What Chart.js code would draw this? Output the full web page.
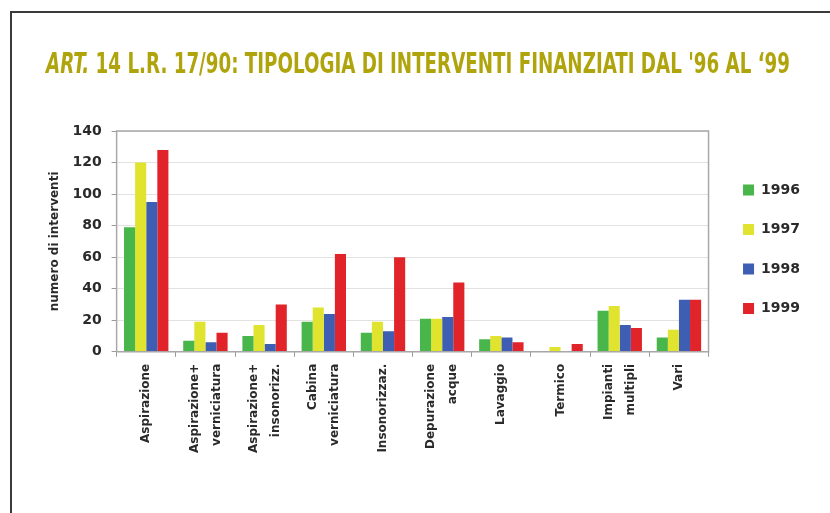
<!DOCTYPE html>
<html>
<head>
<meta charset="utf-8">
<script src="https://cdn.jsdelivr.net/npm/chart.js@4/dist/chart.umd.min.js"></script>
<style>
  html, body { margin: 0; padding: 0; background: #fff; }
  #page { position: relative; width: 830px; height: 513px; overflow: hidden; }
  #frame { position: absolute; left: 10px; top: 11px; width: 830px; height: 520px;
           border-top: 2px solid #3a3a3a; border-left: 2px solid #3a3a3a; }
  #title { position: absolute; left: 46px; top: 46px; white-space: nowrap;
           font-family: "Liberation Sans Narrow", "DejaVu Sans Condensed", "Liberation Sans", sans-serif;
           font-weight: bold; font-size: 28px; line-height: 36px; color: #b0a40c;
           transform-origin: 0 0; }
  #wrap { position: absolute; left: 0; top: 0; width: 830px; height: 513px; }
</style>
</head>
<body>
<div id="page">
  <div id="frame"></div>
  <div id="wrap"><canvas id="tipologiaChart"></canvas></div>
  <div id="title"><i>ART.</i> 14 L.R. 17/90: TIPOLOGIA DI INTERVENTI FINANZIATI DAL '96 AL ‘99</div>
</div>
<script>
// categories (multi-line labels as arrays)
const categories = [
    ['', 'Aspirazione'],
    ['Aspirazione+', 'verniciatura'],
    ['Aspirazione+', 'insonorizz.'],
    ['Cabina', 'verniciatura'],
    ['', 'Insonorizzaz.'],
    ['Depurazione', 'acque'],
    ['', 'Lavaggio'],
    ['', 'Termico'],
    ['Impianti', 'multipli'],
    ['', 'Vari']
];
const years = ['1996', '1997', '1998', '1999'];
const values1996 = [79, 7, 10, 19, 12, 21, 8, 0, 26, 9];
const values1997 = [120, 19, 17, 28, 19, 21, 10, 3, 29, 14];
const values1998 = [95, 6, 5, 24, 13, 22, 9, 0, 17, 33];
const values1999 = [128, 12, 30, 62, 60, 44, 6, 5, 15, 33];
const yMax = 140;
const yStep = 20;

const colors = ['#48b64a', '#e0e42e', '#3d5eb2', '#e0242a'];

// thin grey frame around the plot area
const plotBorder = {
    id: 'plotBorder',
    afterDraw(chart) {
        const a = chart.chartArea;
        const c = chart.ctx;
        c.save();
        c.strokeStyle = '#a8a8a8';
        c.lineWidth = 1.5;
        c.strokeRect(a.left, a.top, a.right - a.left, a.bottom - a.top);
        c.restore();
    }
};

// legend: a wider box, and its items pushed a little to the right
const legendTweak = {
    id: 'legendTweak',
    beforeInit(chart) {
        const legend = chart.legend;
        const fit = legend.fit;
        legend.fit = function () {
            fit.call(this);
            this.width += 22;
        };
        const draw = legend.draw;
        legend.draw = function () {
            this.ctx.save();
            this.ctx.translate(9, 0);
            draw.call(this);
            this.ctx.restore();
        };
    }
};

const ctx = document.getElementById('tipologiaChart').getContext('2d');
new Chart(ctx, {
    type: 'bar',
    data: {
        labels: categories,
        datasets: [
            { label: years[0], data: values1996, backgroundColor: colors[0] },
            { label: years[1], data: values1997, backgroundColor: colors[1] },
            { label: years[2], data: values1998, backgroundColor: colors[2] },
            { label: years[3], data: values1999, backgroundColor: colors[3] }
        ]
    },
    options: {
        responsive: true,
        maintainAspectRatio: false,
        animation: false,
        layout: { padding: { left: 40, top: 131, right: 7, bottom: 53 } },
        datasets: { bar: { categoryPercentage: 0.75, barPercentage: 1.0 } },
        plugins: {
            tooltip: { enabled: false },
            legend: {
                position: 'right',
                align: 'start',
                title: { display: true, text: '', padding: { top: 12, bottom: 0 } },
                labels: {
                    boxWidth: 11,
                    boxHeight: 11,
                    padding: 25.5,
                    color: '#2a2a2a',
                    font: { family: 'DejaVu Sans', weight: 'bold', size: 14 }
                }
            }
        },
        scales: {
            x: {
                grid: { display: true, drawOnChartArea: false, tickLength: 5, color: '#9a9a9a' },
                border: { color: '#9a9a9a' },
                ticks: {
                    minRotation: 90,
                    maxRotation: 90,
                    padding: 7,
                    labelOffset: -11,
                    color: '#2a2a2a',
                    font: function (c) {
                        const lab = categories[c.index] || ['', ''];
                        return {
                            family: 'DejaVu Sans', weight: 'bold', size: 12,
                            lineHeight: lab[0] === '' ? '11px' : '22px'
                        };
                    }
                }
            },
            y: {
                min: 0,
                max: yMax,
                ticks: {
                    stepSize: yStep,
                    padding: 10,
                    color: '#2a2a2a',
                    font: { family: 'DejaVu Sans', weight: 'bold', size: 14 }
                },
                grid: { color: '#e2e2e2', tickLength: 5, tickColor: '#9a9a9a' },
                border: { color: '#9a9a9a' },
                title: {
                    display: true,
                    text: 'numero di interventi',
                    color: '#2a2a2a',
                    padding: { top: 8, bottom: 0 },
                    font: { family: 'DejaVu Sans', weight: 'bold', size: 12 }
                }
            }
        }
    },
    plugins: [plotBorder, legendTweak]
});

// stretch the condensed title to its width in the reference
const title = document.getElementById('title');
const w = title.getBoundingClientRect().width;
title.style.transform = 'scaleX(' + (744 / w) + ')';
</script>
</body>
</html>
